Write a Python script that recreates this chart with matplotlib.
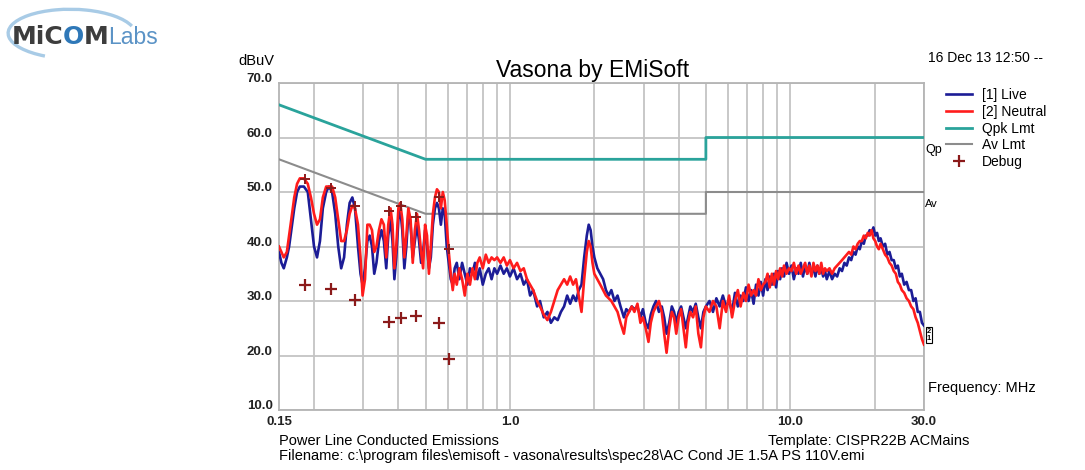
import matplotlib
matplotlib.use('Agg')
import matplotlib.pyplot as plt
from matplotlib.ticker import LogLocator, NullFormatter
from matplotlib.patches import Arc

plt.rcParams['font.family'] = ['Liberation Sans', 'DejaVu Sans']

# ── data ────────────────────────────────────────────────────────
freq_mhz = [
    0.150, 0.153, 0.156, 0.160, 0.163, 0.167, 0.170, 0.174, 0.178, 0.184,
    0.190, 0.195, 0.200, 0.205, 0.210, 0.215, 0.221, 0.226, 0.232, 0.238,
    0.244, 0.250, 0.256, 0.262, 0.268, 0.274, 0.280, 0.287, 0.293, 0.298,
    0.304, 0.310, 0.316, 0.322, 0.328, 0.334, 0.341, 0.348, 0.355, 0.362,
    0.368, 0.375, 0.381, 0.387, 0.393, 0.400, 0.406, 0.413, 0.420, 0.427,
    0.434, 0.442, 0.450, 0.458, 0.466, 0.474, 0.482, 0.490, 0.498, 0.506,
    0.514, 0.522, 0.531, 0.540, 0.549, 0.558, 0.567, 0.576, 0.585, 0.595,
    0.605, 0.615, 0.625, 0.635, 0.646,
    0.660, 0.675, 0.690, 0.705, 0.720, 0.735, 0.750, 0.765, 0.780, 0.800,
    0.820, 0.840, 0.860, 0.880, 0.900, 0.925, 0.950, 0.975, 1.000, 1.030,
    1.060, 1.090, 1.120, 1.150, 1.180, 1.210, 1.250, 1.280, 1.320, 1.360,
    1.400, 1.440, 1.480, 1.520, 1.560, 1.600, 1.640, 1.680, 1.720, 1.760,
    1.800, 1.840, 1.880, 1.910, 1.940, 1.970, 2.000, 2.050, 2.100, 2.150,
    2.200, 2.250, 2.300, 2.360, 2.420, 2.480, 2.550, 2.600, 2.660, 2.720,
    2.780, 2.850, 2.920, 2.980, 3.050, 3.120, 3.180, 3.250, 3.320, 3.400,
    3.480, 3.550, 3.620, 3.700, 3.780, 3.850, 3.920, 4.000, 4.080, 4.160,
    4.240, 4.320, 4.400, 4.500, 4.600, 4.700, 4.800, 4.900, 5.000,
    5.15, 5.30, 5.45, 5.60, 5.75, 5.90, 6.05, 6.20, 6.35, 6.50,
    6.65, 6.80, 6.95, 7.10, 7.25, 7.40, 7.55, 7.70, 7.85, 8.00,
    8.15, 8.30, 8.45, 8.60, 8.75, 8.90, 9.05, 9.20, 9.35, 9.50,
    9.70, 9.90, 10.1, 10.3, 10.5, 10.7, 10.9, 11.1, 11.3, 11.5,
    11.7, 11.9, 12.1, 12.3, 12.5, 12.7, 12.9, 13.1, 13.3, 13.5,
    13.8, 14.1, 14.4, 14.7, 15.0, 15.3, 15.6, 15.9, 16.2, 16.5,
    16.8, 17.1, 17.4, 17.7, 18.0, 18.3, 18.6, 18.9, 19.2, 19.5,
    19.8, 20.1, 20.4, 20.7, 21.0, 21.4, 21.8, 22.2, 22.6, 23.0,
    23.4, 23.8, 24.2, 24.6, 25.0, 25.5, 26.0, 26.5, 27.0, 27.5,
    28.0, 28.5, 29.0, 29.5, 30.0,
]

live_dbuv = [
    39, 37, 36, 38, 40, 44, 47, 50, 51, 51,
    50, 45, 40, 38, 41, 47, 50, 51, 50, 46,
    40, 36, 38, 44, 48, 49, 47, 40, 35, 33,
    36, 41, 42, 40, 35, 37, 41, 43, 41, 36,
    42, 45, 41, 34, 38, 45, 47, 43, 36, 40,
    46, 44, 38, 41, 44, 41, 37, 39, 43, 40,
    36, 38, 44, 47, 48, 47, 44, 47, 46, 40,
    37, 34, 33, 36, 37,
    34, 37, 35, 33, 36, 35, 37, 34, 36, 33,
    35, 36, 34, 36, 35, 36.5, 35, 36, 34.5, 36,
    34, 35, 33, 34, 31, 32, 29, 30, 27, 28,
    26, 27, 26.5, 28, 29, 31, 29.5, 31, 30, 32,
    33, 38, 42, 44, 43, 40, 38, 36, 35, 34,
    32, 31, 32, 30, 31, 29, 27, 28.5, 28, 29,
    28.5, 29, 27, 28.5, 26, 25, 27.5, 29, 30, 28,
    29, 27, 24, 26, 29, 28, 26, 28, 29, 27,
    25, 27, 29, 28, 29.5, 27, 25, 28, 29,
    30, 28, 30.5, 29, 31, 29, 30, 28, 31.5, 29,
    31, 30, 32.5, 30, 32, 29.5, 33, 31, 33.5, 31,
    34, 32, 34.5, 33, 35, 32.5, 35.5, 34, 36, 34.5,
    37, 35, 36.5, 34, 36, 35, 37, 34.5, 36.5, 35,
    37, 35, 36, 34.5, 36.5, 35, 36, 34.5, 35.5, 34,
    35.5, 34, 35, 34.5, 36, 35.5, 37, 36.5, 38, 37.5,
    39, 38.5, 40, 39.5, 41, 40.5, 42, 42, 43, 42.5,
    43.5, 42, 42.5, 41, 41.5, 40, 40.5, 38.5, 39, 37.5,
    37.5, 36, 36.5, 34.5, 35, 33, 33.5, 32, 32, 30,
    30.5, 28, 28, 26, 25.5,
]

neutral_dbuv = [
    40, 39, 38, 39, 42, 46, 49, 51.5, 52.5, 52.5,
    51.5, 49, 46, 44, 45, 49, 51, 51, 51, 49,
    45, 41, 41, 43, 46, 47.5, 47, 44, 38, 31,
    34, 44, 44, 43, 39, 40, 43, 45, 44, 38,
    44, 47, 44, 36, 40, 47, 48, 45, 38, 42,
    47, 45, 37, 43, 46, 43, 39, 36, 44, 42,
    35, 40, 46, 49, 50.5, 50, 47, 50, 48.5, 44,
    39, 35, 32, 35, 33,
    36, 34, 31, 35, 33, 36, 34, 37, 38, 36,
    38.5, 37, 38, 37.5, 38, 37, 38, 36.5, 37.5, 36,
    37, 35.5, 36, 34, 33, 32, 30, 29, 27.5, 26.5,
    28, 30, 32, 33, 34, 33, 34.5, 33, 34, 31,
    28, 34, 39, 41, 40, 37, 35, 34, 33, 32,
    31, 30.5, 30, 29, 28, 26, 24, 27, 28, 29,
    28, 29.5, 26, 27, 25, 22.5, 26, 28, 29, 30,
    28, 24, 20.5, 25, 28, 27, 24, 27, 28.5, 25,
    21.5, 26, 28, 27, 29, 24, 21.5, 27, 29,
    28, 30, 29, 25, 30, 28, 31, 27, 30, 32,
    29, 31.5, 30, 33, 31, 32, 31, 34, 32, 33,
    33.5, 35, 32.5, 35, 33, 35.5, 34, 36, 34.5, 36.5,
    35, 36, 35.5, 37, 35, 36.5, 35, 36, 37, 35,
    36.5, 34.5, 37, 35.5, 36.5, 35, 37, 35, 36, 35.5,
    36, 35, 36, 36.5, 37, 37.5, 38, 38.5, 39, 38.5,
    40, 39.5, 40.5, 41, 41, 42, 41.5, 42.5, 42, 43,
    41.5, 41, 40, 39.5, 40.5, 39.5, 38.5, 38, 37, 36.5,
    35.5, 35, 33.5, 33, 32, 31.5, 30.5, 30, 29, 28.5,
    27, 26, 24.5, 23, 22,
]

qp_freq = [0.15, 0.5, 5.0, 5.0, 30.0]
qp_limit = [66, 56, 56, 60, 60]
av_freq = [0.15, 0.5, 5.0, 5.0, 30.0]
av_limit = [56, 46, 46, 50, 50]

debug_freq = [0.186, 0.230, 0.280, 0.371, 0.410, 0.462, 0.560, 0.607]
debug_qp = [52.3, 50.8, 47.5, 46.5, 47.5, 45.5, 49.0, 39.5]
debug_av = [32.9, 32.2, 30.2, 26.1, 26.9, 27.2, 26.0, 19.4]

y_ticks = [10, 20, 30, 40, 50, 60, 70]
x_ticks = [0.15, 1.0, 10.0, 30.0]
x_tick_labels = ['0.15', '1.0', '10.0', '30.0']

# ── figure ──────────────────────────────────────────────────────
W, H = 1085, 470
fig = plt.figure(figsize=(W / 100, H / 100), dpi=100)
fig.patch.set_facecolor('white')


def fx(px):
    return px / W


def fy(py):
    return 1 - py / H


def ftxt(px, py, s, fs=10, color='black', ha='left', va='center', **kw):
    return fig.text(fx(px), fy(py), s, fontsize=fs, color=color, ha=ha, va=va, **kw)


ax = fig.add_axes([fx(279), fy(410), fx(924) - fx(279), fy(83) - fy(410)])
ax.set_xscale('log')
ax.set_xlim(0.15, 30)
ax.set_ylim(10, 70)

ax.xaxis.set_major_locator(LogLocator(base=10, subs=(1.0,)))
ax.xaxis.set_minor_locator(LogLocator(base=10, subs=(2, 3, 4, 5, 6, 7, 8, 9)))
ax.xaxis.set_major_formatter(NullFormatter())
ax.xaxis.set_minor_formatter(NullFormatter())
ax.set_yticks(y_ticks)
ax.set_yticklabels([])
ax.tick_params(which='both', length=0)
ax.grid(True, which='both', color='#c4c4c4', lw=1.3)
ax.set_axisbelow(True)
for s in ax.spines.values():
    s.set_color('#b4b4b4')
    s.set_linewidth(1.3)

# limits
ax.plot(qp_freq, qp_limit, color='#2aa39b', lw=2.0, label='Qpk Lmt', zorder=3)
ax.plot(av_freq, av_limit, color='#8c8c8c', lw=1.5, label='Av Lmt', zorder=3)

# traces
ax.plot(freq_mhz, live_dbuv, color='#1c1c96', lw=1.9, label='[1] Live', zorder=4)
ax.plot(freq_mhz, neutral_dbuv, color='#ff1c1c', lw=1.9, label='[2] Neutral', zorder=5)

# debug markers
ax.plot(debug_freq, debug_av, '+', color='#8b1a1a', ms=8, mew=1.6,
        label='Debug', zorder=6)
ax.plot(debug_freq, debug_qp, '+', color='#8b1a1a', ms=7, mew=1.4, zorder=6)

# tick labels
for v in y_ticks:
    ax.text(-0.01, v + 0.7, f'{v:.1f}', transform=ax.get_yaxis_transform(),
            ha='right', va='center', fontsize=9.5, fontweight='bold', color='#222222')
for f, lab in zip(x_ticks, x_tick_labels):
    ax.text(f, -0.037, lab, transform=ax.get_xaxis_transform(),
            ha='center', va='center', fontsize=9.5, fontweight='bold', color='#222222')

# limit tags on the right
ax.text(1.002, qp_limit[-1] - 1.2, 'Qp', transform=ax.get_yaxis_transform(),
        ha='left', va='top', fontsize=9)
ax.text(1.002, av_limit[-1] - 1.2, 'Av', transform=ax.get_yaxis_transform(),
        ha='left', va='top', fontsize=8)

# legend
h, l = ax.get_legend_handles_labels()
order = [l.index(k) for k in ['[1] Live', '[2] Neutral', 'Qpk Lmt', 'Av Lmt', 'Debug']]
leg = fig.legend([h[i] for i in order], [l[i] for i in order],
                 loc='upper left', bbox_to_anchor=(fx(946), fy(88)),
                 frameon=False, fontsize=10, handlelength=1.9, handletextpad=0.7,
                 labelspacing=0.2, borderaxespad=0, borderpad=0)

# texts
ftxt(593, 70, 'Vasona by EMiSoft', fs=16.5, ha='center')
ftxt(238, 61, 'dBuV', fs=10.5)
ftxt(928, 58, '16 Dec 13 12:50 --', fs=10)
ftxt(928, 388, 'Frequency: MHz', fs=10.5)
ftxt(279, 441, 'Power Line Conducted Emissions', fs=10.5)
ftxt(768, 441, 'Template: CISPR22B ACMains', fs=10.5)
ftxt(279, 456, 'Filename: c:\\program files\\emisoft - vasona\\results\\spec28'
     '\\AC Cond JE 1.5A PS 110V.emi', fs=10.5)
ftxt(927, 335, '2\n1', fs=5.5, fontweight='bold',
     bbox=dict(boxstyle='square,pad=0.1', fc='white', ec='black', lw=0.8),
     linespacing=0.9)

# logo
fig.add_artist(Arc((fx(72), fy(34)), fx(128), 0.105, angle=-8, theta1=25, theta2=250,
                   color='#a8cbe6', lw=2.4, transform=fig.transFigure))
logo_parts = [('MiC', 18, 'bold', '#3d3d3d'), ('O', 18, 'bold', '#2f78b8'),
              ('M', 18, 'bold', '#3d3d3d'), ('Labs', 16.5, 'normal', '#5b93c6')]
fig.canvas.draw()
r = fig.canvas.get_renderer()
x_px = 12
for s, fs, fw, c in logo_parts:
    t = ftxt(x_px, 44, s, fs=fs, color=c, va='baseline', fontweight=fw,
             family=['DejaVu Sans'] if fw == 'bold' else ['Liberation Sans'])
    bb = t.get_window_extent(r)
    x_px = bb.x1 - 0.5

fig.savefig('out.png', dpi=100, facecolor='white')
